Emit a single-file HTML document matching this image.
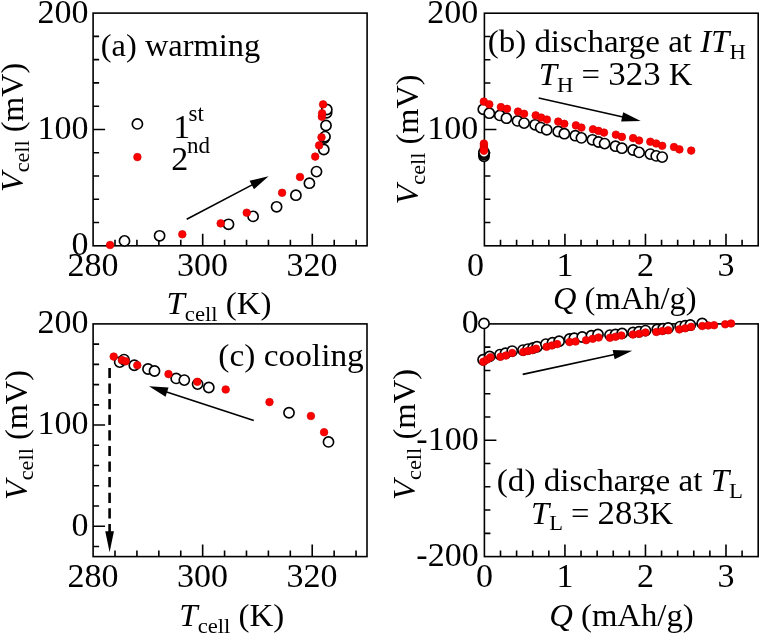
<!DOCTYPE html>
<html><head><meta charset="utf-8"><style>
html,body{margin:0;padding:0;background:#fff;}
svg{display:block;will-change:transform;}
text{font-family:"Liberation Serif", serif;fill:#000;}
</style></head><body>
<svg width="759" height="634" viewBox="0 0 759 634">
<rect width="759" height="634" fill="#fff"/>
<path d="M115.02 245.80V239.80 M136.94 245.80V239.80 M158.86 245.80V239.80 M180.78 245.80V239.80 M202.70 245.80V233.80 M224.62 245.80V239.80 M246.54 245.80V239.80 M268.46 245.80V239.80 M290.38 245.80V239.80 M312.30 245.80V233.80 M334.22 245.80V239.80 M356.14 245.80V239.80 M93.10 222.53H99.10 M93.10 199.26H99.10 M93.10 175.99H99.10 M93.10 152.72H99.10 M93.10 129.45H105.10 M93.10 106.18H99.10 M93.10 82.91H99.10 M93.10 59.64H99.10 M93.10 36.37H99.10" stroke="#000" stroke-width="1.6" fill="none"/>
<rect x="93.10" y="13.10" width="274.00" height="232.70" stroke="#000" stroke-width="1.6" fill="none"/>
<path d="M500.51 245.80V239.80 M516.61 245.80V239.80 M532.72 245.80V239.80 M548.82 245.80V239.80 M564.93 245.80V233.80 M581.04 245.80V239.80 M597.14 245.80V239.80 M613.25 245.80V239.80 M629.35 245.80V239.80 M645.46 245.80V233.80 M661.56 245.80V239.80 M677.67 245.80V239.80 M693.78 245.80V239.80 M709.88 245.80V239.80 M725.99 245.80V233.80 M742.09 245.80V239.80 M484.40 222.54H490.40 M484.40 199.28H490.40 M484.40 176.02H490.40 M484.40 152.76H490.40 M484.40 129.50H496.40 M484.40 106.24H490.40 M484.40 82.98H490.40 M484.40 59.72H490.40 M484.40 36.46H490.40" stroke="#000" stroke-width="1.6" fill="none"/>
<rect x="484.40" y="13.20" width="273.80" height="232.60" stroke="#000" stroke-width="1.6" fill="none"/>
<path d="M115.01 556.60V550.60 M136.92 556.60V550.60 M158.84 556.60V550.60 M180.75 556.60V550.60 M202.66 556.60V544.60 M224.57 556.60V550.60 M246.48 556.60V550.60 M268.40 556.60V550.60 M290.31 556.60V550.60 M312.22 556.60V544.60 M334.13 556.60V550.60 M356.04 556.60V550.60 M93.10 546.48H99.10 M93.10 526.25H105.10 M93.10 506.01H99.10 M93.10 485.78H99.10 M93.10 465.54H99.10 M93.10 445.31H99.10 M93.10 425.07H105.10 M93.10 404.84H99.10 M93.10 384.60H99.10 M93.10 364.37H99.10 M93.10 344.13H99.10" stroke="#000" stroke-width="1.6" fill="none"/>
<rect x="93.10" y="323.90" width="273.90" height="232.70" stroke="#000" stroke-width="1.6" fill="none"/>
<path d="M500.51 556.60V550.60 M516.61 556.60V550.60 M532.72 556.60V550.60 M548.82 556.60V550.60 M564.93 556.60V544.60 M581.04 556.60V550.60 M597.14 556.60V550.60 M613.25 556.60V550.60 M629.35 556.60V550.60 M645.46 556.60V544.60 M661.56 556.60V550.60 M677.67 556.60V550.60 M693.78 556.60V550.60 M709.88 556.60V550.60 M725.99 556.60V544.60 M742.09 556.60V550.60 M484.40 533.33H490.40 M484.40 510.06H490.40 M484.40 486.79H490.40 M484.40 463.52H490.40 M484.40 440.25H496.40 M484.40 416.98H490.40 M484.40 393.71H490.40 M484.40 370.44H490.40 M484.40 347.17H490.40" stroke="#000" stroke-width="1.6" fill="none"/>
<rect x="484.40" y="323.90" width="273.80" height="232.70" stroke="#000" stroke-width="1.6" fill="none"/>
<text transform="translate(88.60,22.50)" font-size="34" text-anchor="end" >200</text>
<text transform="translate(88.60,138.85)" font-size="34" text-anchor="end" >100</text>
<text transform="translate(88.60,255.20)" font-size="34" text-anchor="end" >0</text>
<text transform="translate(92.90,276.00)" font-size="34" text-anchor="middle" >280</text>
<text transform="translate(202.50,276.00)" font-size="34" text-anchor="middle" >300</text>
<text transform="translate(312.10,276.00)" font-size="34" text-anchor="middle" >320</text>
<text transform="translate(478.30,22.60)" font-size="34" text-anchor="end" >200</text>
<text transform="translate(478.30,138.90)" font-size="34" text-anchor="end" >100</text>
<text transform="translate(475.60,276.00)" font-size="34" text-anchor="middle" >0</text>
<text transform="translate(564.93,276.00)" font-size="34" text-anchor="middle" >1</text>
<text transform="translate(645.46,276.00)" font-size="34" text-anchor="middle" >2</text>
<text transform="translate(725.99,276.00)" font-size="34" text-anchor="middle" >3</text>
<text transform="translate(88.60,333.30)" font-size="34" text-anchor="end" >200</text>
<text transform="translate(88.60,434.47)" font-size="34" text-anchor="end" >100</text>
<text transform="translate(88.60,535.65)" font-size="34" text-anchor="end" >0</text>
<text transform="translate(92.90,586.80)" font-size="34" text-anchor="middle" >280</text>
<text transform="translate(202.46,586.80)" font-size="34" text-anchor="middle" >300</text>
<text transform="translate(312.02,586.80)" font-size="34" text-anchor="middle" >320</text>
<text transform="translate(478.70,333.30)" font-size="34" text-anchor="end" >0</text>
<text transform="translate(478.70,449.65)" font-size="34" text-anchor="end" >-100</text>
<text transform="translate(478.70,566.00)" font-size="34" text-anchor="end" >-200</text>
<text transform="translate(484.40,586.80)" font-size="34" text-anchor="middle" >0</text>
<text transform="translate(564.93,586.80)" font-size="34" text-anchor="middle" >1</text>
<text transform="translate(645.46,586.80)" font-size="34" text-anchor="middle" >2</text>
<text transform="translate(725.99,586.80)" font-size="34" text-anchor="middle" >3</text>
<text transform="translate(166.50,314.00) scale(1.0300,1)" font-size="32" text-anchor="start" ><tspan font-style="italic">T</tspan><tspan font-size="22" dy="6.5">cell</tspan><tspan dy="-6.5"> (K)</tspan></text>
<text transform="translate(179.30,626.00) scale(1.0300,1)" font-size="32" text-anchor="start" ><tspan font-style="italic">T</tspan><tspan font-size="22" dy="6.5">cell</tspan><tspan dy="-6.5"> (K)</tspan></text>
<text transform="translate(553.00,308.70) scale(1.0160,1)" font-size="32" text-anchor="start" ><tspan font-style="italic">Q</tspan> (mAh/g)</text>
<text transform="translate(549.20,626.30) scale(1.0230,1)" font-size="32" text-anchor="start" ><tspan font-style="italic">Q</tspan> (mAh/g)</text>
<text transform="translate(22.50,192.00) rotate(-90) scale(1.0060,1)" font-size="32" text-anchor="start" ><tspan font-style="italic">V</tspan><tspan font-size="22" dy="6.5">cell</tspan><tspan dy="-6.5"> (mV)</tspan></text>
<text transform="translate(418.20,204.40) rotate(-90) scale(1.0100,1)" font-size="32" text-anchor="start" ><tspan font-style="italic">V</tspan><tspan font-size="22" dy="6.5">cell</tspan><tspan dy="-6.5"> (mV)</tspan></text>
<text transform="translate(26.90,500.00) rotate(-90) scale(1.0100,1)" font-size="32" text-anchor="start" ><tspan font-style="italic">V</tspan><tspan font-size="22" dy="6.5">cell</tspan><tspan dy="-6.5"> (mV)</tspan></text>
<text transform="translate(414.50,500.00) rotate(-90) scale(1.0200,1)" font-size="32" text-anchor="start" ><tspan font-style="italic">V</tspan><tspan font-size="22" dy="6.5">cell</tspan><tspan dy="-6.5"> (mV)</tspan></text>
<text transform="translate(100.80,55.80) scale(1.0140,1)" font-size="32" text-anchor="start" >(a) warming</text>
<text transform="translate(218.30,366.40) scale(1.0430,1)" font-size="32" text-anchor="start" >(c) cooling</text>
<text transform="translate(487.80,52.30) scale(1.0290,1)" font-size="32" text-anchor="start" >(b) discharge at <tspan font-style="italic">IT</tspan><tspan font-size="22" dy="6.5">H</tspan></text>
<text transform="translate(538.80,85.00) scale(1.0260,1)" font-size="32" text-anchor="start" ><tspan font-style="italic">T</tspan><tspan font-size="22" dy="6.5">H</tspan><tspan dy="-6.5"> = <tspan font-size="34">323</tspan> K</tspan></text>
<text transform="translate(496.80,491.00) scale(1.0360,1)" font-size="32" text-anchor="start" >(d) discharge at <tspan font-style="italic">T</tspan><tspan font-size="22" dy="6.5">L</tspan></text>
<rect x="600" y="494.3" width="80" height="6" fill="#fff"/>
<text transform="translate(531.00,523.60) scale(1.0200,1)" font-size="32" text-anchor="start" ><tspan font-style="italic">T</tspan><tspan font-size="22" dy="6.5">L</tspan><tspan dy="-6.5"> = <tspan font-size="34">283</tspan>K</tspan></text>
<text transform="translate(173.30,137.60)" font-size="32" text-anchor="start" ><tspan font-size="34">1</tspan><tspan font-size="23" dx="-1.8" dy="-17">st</tspan></text>
<text transform="translate(171.30,169.90)" font-size="32" text-anchor="start" ><tspan font-size="34">2</tspan><tspan font-size="23" dx="-1.2" dy="-17">nd</tspan></text>
<circle cx="137.40" cy="123.90" r="5.1" fill="#fff" stroke="#000" stroke-width="1.65"/>
<circle cx="137.40" cy="157.10" r="3.80" fill="#f00" stroke="#d40000" stroke-width="0.7"/>
<circle cx="124.50" cy="240.90" r="5.1" fill="#fff" stroke="#000" stroke-width="1.65"/>
<circle cx="159.60" cy="235.80" r="5.1" fill="#fff" stroke="#000" stroke-width="1.65"/>
<circle cx="228.50" cy="224.30" r="5.1" fill="#fff" stroke="#000" stroke-width="1.65"/>
<circle cx="253.10" cy="216.40" r="5.1" fill="#fff" stroke="#000" stroke-width="1.65"/>
<circle cx="276.60" cy="206.80" r="5.1" fill="#fff" stroke="#000" stroke-width="1.65"/>
<circle cx="295.90" cy="195.20" r="5.1" fill="#fff" stroke="#000" stroke-width="1.65"/>
<circle cx="309.40" cy="183.20" r="5.1" fill="#fff" stroke="#000" stroke-width="1.65"/>
<circle cx="316.50" cy="171.60" r="5.1" fill="#fff" stroke="#000" stroke-width="1.65"/>
<circle cx="323.80" cy="149.50" r="5.1" fill="#fff" stroke="#000" stroke-width="1.65"/>
<circle cx="324.30" cy="138.00" r="5.1" fill="#fff" stroke="#000" stroke-width="1.65"/>
<circle cx="325.00" cy="136.60" r="5.1" fill="#fff" stroke="#000" stroke-width="1.65"/>
<circle cx="326.00" cy="125.50" r="5.1" fill="#fff" stroke="#000" stroke-width="1.65"/>
<circle cx="326.60" cy="112.80" r="5.1" fill="#fff" stroke="#000" stroke-width="1.65"/>
<circle cx="326.80" cy="109.50" r="5.1" fill="#fff" stroke="#000" stroke-width="1.65"/>
<circle cx="110.10" cy="245.00" r="3.80" fill="#f00" stroke="#d40000" stroke-width="0.7"/>
<circle cx="182.30" cy="234.30" r="3.80" fill="#f00" stroke="#d40000" stroke-width="0.7"/>
<circle cx="220.70" cy="223.40" r="3.80" fill="#f00" stroke="#d40000" stroke-width="0.7"/>
<circle cx="246.70" cy="212.70" r="3.80" fill="#f00" stroke="#d40000" stroke-width="0.7"/>
<circle cx="282.10" cy="192.80" r="3.80" fill="#f00" stroke="#d40000" stroke-width="0.7"/>
<circle cx="300.00" cy="177.00" r="3.80" fill="#f00" stroke="#d40000" stroke-width="0.7"/>
<circle cx="315.20" cy="156.60" r="3.80" fill="#f00" stroke="#d40000" stroke-width="0.7"/>
<circle cx="319.10" cy="145.40" r="3.80" fill="#f00" stroke="#d40000" stroke-width="0.7"/>
<circle cx="321.50" cy="137.30" r="3.80" fill="#f00" stroke="#d40000" stroke-width="0.7"/>
<circle cx="321.90" cy="116.80" r="3.80" fill="#f00" stroke="#d40000" stroke-width="0.7"/>
<circle cx="322.10" cy="113.30" r="3.80" fill="#f00" stroke="#d40000" stroke-width="0.7"/>
<circle cx="323.10" cy="104.40" r="3.80" fill="#f00" stroke="#d40000" stroke-width="0.7"/>
<circle cx="484.00" cy="156.30" r="5.1" fill="#fff" stroke="#000" stroke-width="1.65"/>
<circle cx="484.00" cy="154.60" r="5.1" fill="#fff" stroke="#000" stroke-width="1.65"/>
<circle cx="484.00" cy="153.20" r="5.1" fill="#fff" stroke="#000" stroke-width="1.65"/>
<circle cx="484.00" cy="152.20" r="5.1" fill="#fff" stroke="#000" stroke-width="1.65"/>
<circle cx="483.30" cy="109.30" r="5.1" fill="#fff" stroke="#000" stroke-width="1.65"/>
<circle cx="489.30" cy="113.20" r="5.1" fill="#fff" stroke="#000" stroke-width="1.65"/>
<circle cx="499.80" cy="115.40" r="5.1" fill="#fff" stroke="#000" stroke-width="1.65"/>
<circle cx="506.40" cy="118.20" r="5.1" fill="#fff" stroke="#000" stroke-width="1.65"/>
<circle cx="517.50" cy="120.90" r="5.1" fill="#fff" stroke="#000" stroke-width="1.65"/>
<circle cx="524.10" cy="123.10" r="5.1" fill="#fff" stroke="#000" stroke-width="1.65"/>
<circle cx="535.10" cy="124.80" r="5.1" fill="#fff" stroke="#000" stroke-width="1.65"/>
<circle cx="540.70" cy="127.60" r="5.1" fill="#fff" stroke="#000" stroke-width="1.65"/>
<circle cx="546.70" cy="129.80" r="5.1" fill="#fff" stroke="#000" stroke-width="1.65"/>
<circle cx="558.20" cy="131.50" r="5.1" fill="#fff" stroke="#000" stroke-width="1.65"/>
<circle cx="564.30" cy="133.70" r="5.1" fill="#fff" stroke="#000" stroke-width="1.65"/>
<circle cx="575.30" cy="135.70" r="5.1" fill="#fff" stroke="#000" stroke-width="1.65"/>
<circle cx="581.40" cy="137.90" r="5.1" fill="#fff" stroke="#000" stroke-width="1.65"/>
<circle cx="592.40" cy="139.80" r="5.1" fill="#fff" stroke="#000" stroke-width="1.65"/>
<circle cx="598.50" cy="142.00" r="5.1" fill="#fff" stroke="#000" stroke-width="1.65"/>
<circle cx="604.60" cy="143.60" r="5.1" fill="#fff" stroke="#000" stroke-width="1.65"/>
<circle cx="615.50" cy="146.20" r="5.1" fill="#fff" stroke="#000" stroke-width="1.65"/>
<circle cx="621.90" cy="148.20" r="5.1" fill="#fff" stroke="#000" stroke-width="1.65"/>
<circle cx="633.10" cy="150.00" r="5.1" fill="#fff" stroke="#000" stroke-width="1.65"/>
<circle cx="639.10" cy="152.40" r="5.1" fill="#fff" stroke="#000" stroke-width="1.65"/>
<circle cx="650.30" cy="154.10" r="5.1" fill="#fff" stroke="#000" stroke-width="1.65"/>
<circle cx="656.20" cy="155.90" r="5.1" fill="#fff" stroke="#000" stroke-width="1.65"/>
<circle cx="662.20" cy="157.10" r="5.1" fill="#fff" stroke="#000" stroke-width="1.65"/>
<circle cx="483.90" cy="143.60" r="3.80" fill="#f00" stroke="#d40000" stroke-width="0.7"/>
<circle cx="483.90" cy="145.50" r="3.80" fill="#f00" stroke="#d40000" stroke-width="0.7"/>
<circle cx="483.90" cy="147.50" r="3.80" fill="#f00" stroke="#d40000" stroke-width="0.7"/>
<circle cx="483.90" cy="149.50" r="3.80" fill="#f00" stroke="#d40000" stroke-width="0.7"/>
<circle cx="483.90" cy="150.80" r="3.80" fill="#f00" stroke="#d40000" stroke-width="0.7"/>
<circle cx="483.80" cy="101.60" r="3.80" fill="#f00" stroke="#d40000" stroke-width="0.7"/>
<circle cx="489.30" cy="104.40" r="3.80" fill="#f00" stroke="#d40000" stroke-width="0.7"/>
<circle cx="500.90" cy="107.10" r="3.80" fill="#f00" stroke="#d40000" stroke-width="0.7"/>
<circle cx="507.00" cy="108.80" r="3.80" fill="#f00" stroke="#d40000" stroke-width="0.7"/>
<circle cx="518.00" cy="111.60" r="3.80" fill="#f00" stroke="#d40000" stroke-width="0.7"/>
<circle cx="524.10" cy="113.80" r="3.80" fill="#f00" stroke="#d40000" stroke-width="0.7"/>
<circle cx="535.70" cy="115.40" r="3.80" fill="#f00" stroke="#d40000" stroke-width="0.7"/>
<circle cx="541.20" cy="117.60" r="3.80" fill="#f00" stroke="#d40000" stroke-width="0.7"/>
<circle cx="546.90" cy="119.60" r="3.80" fill="#f00" stroke="#d40000" stroke-width="0.7"/>
<circle cx="558.20" cy="121.60" r="3.80" fill="#f00" stroke="#d40000" stroke-width="0.7"/>
<circle cx="564.30" cy="123.80" r="3.80" fill="#f00" stroke="#d40000" stroke-width="0.7"/>
<circle cx="575.90" cy="125.40" r="3.80" fill="#f00" stroke="#d40000" stroke-width="0.7"/>
<circle cx="581.40" cy="127.60" r="3.80" fill="#f00" stroke="#d40000" stroke-width="0.7"/>
<circle cx="593.00" cy="129.30" r="3.80" fill="#f00" stroke="#d40000" stroke-width="0.7"/>
<circle cx="598.50" cy="130.90" r="3.80" fill="#f00" stroke="#d40000" stroke-width="0.7"/>
<circle cx="604.00" cy="132.60" r="3.80" fill="#f00" stroke="#d40000" stroke-width="0.7"/>
<circle cx="615.90" cy="134.70" r="3.80" fill="#f00" stroke="#d40000" stroke-width="0.7"/>
<circle cx="621.90" cy="136.90" r="3.80" fill="#f00" stroke="#d40000" stroke-width="0.7"/>
<circle cx="633.10" cy="138.10" r="3.80" fill="#f00" stroke="#d40000" stroke-width="0.7"/>
<circle cx="639.10" cy="140.50" r="3.80" fill="#f00" stroke="#d40000" stroke-width="0.7"/>
<circle cx="650.30" cy="141.70" r="3.80" fill="#f00" stroke="#d40000" stroke-width="0.7"/>
<circle cx="656.20" cy="143.50" r="3.80" fill="#f00" stroke="#d40000" stroke-width="0.7"/>
<circle cx="662.20" cy="145.80" r="3.80" fill="#f00" stroke="#d40000" stroke-width="0.7"/>
<circle cx="674.00" cy="147.00" r="3.80" fill="#f00" stroke="#d40000" stroke-width="0.7"/>
<circle cx="679.40" cy="149.40" r="3.80" fill="#f00" stroke="#d40000" stroke-width="0.7"/>
<circle cx="691.20" cy="150.60" r="3.80" fill="#f00" stroke="#d40000" stroke-width="0.7"/>
<circle cx="119.70" cy="362.10" r="5.1" fill="#fff" stroke="#000" stroke-width="1.65"/>
<circle cx="124.00" cy="359.60" r="5.1" fill="#fff" stroke="#000" stroke-width="1.65"/>
<circle cx="134.30" cy="365.20" r="5.1" fill="#fff" stroke="#000" stroke-width="1.65"/>
<circle cx="148.00" cy="369.00" r="5.1" fill="#fff" stroke="#000" stroke-width="1.65"/>
<circle cx="154.50" cy="371.00" r="5.1" fill="#fff" stroke="#000" stroke-width="1.65"/>
<circle cx="176.20" cy="378.40" r="5.1" fill="#fff" stroke="#000" stroke-width="1.65"/>
<circle cx="184.30" cy="380.10" r="5.1" fill="#fff" stroke="#000" stroke-width="1.65"/>
<circle cx="197.60" cy="384.10" r="5.1" fill="#fff" stroke="#000" stroke-width="1.65"/>
<circle cx="208.80" cy="387.50" r="5.1" fill="#fff" stroke="#000" stroke-width="1.65"/>
<circle cx="289.00" cy="412.70" r="5.1" fill="#fff" stroke="#000" stroke-width="1.65"/>
<circle cx="328.50" cy="441.90" r="5.1" fill="#fff" stroke="#000" stroke-width="1.65"/>
<circle cx="113.70" cy="356.60" r="3.80" fill="#f00" stroke="#d40000" stroke-width="0.7"/>
<circle cx="121.90" cy="360.10" r="3.80" fill="#f00" stroke="#d40000" stroke-width="0.7"/>
<circle cx="125.70" cy="361.30" r="3.80" fill="#f00" stroke="#d40000" stroke-width="0.7"/>
<circle cx="137.30" cy="365.20" r="3.80" fill="#f00" stroke="#d40000" stroke-width="0.7"/>
<circle cx="168.50" cy="374.10" r="3.80" fill="#f00" stroke="#d40000" stroke-width="0.7"/>
<circle cx="197.30" cy="381.80" r="3.80" fill="#f00" stroke="#d40000" stroke-width="0.7"/>
<circle cx="225.70" cy="389.50" r="3.80" fill="#f00" stroke="#d40000" stroke-width="0.7"/>
<circle cx="269.50" cy="402.10" r="3.80" fill="#f00" stroke="#d40000" stroke-width="0.7"/>
<circle cx="310.90" cy="416.00" r="3.80" fill="#f00" stroke="#d40000" stroke-width="0.7"/>
<circle cx="324.10" cy="432.20" r="3.80" fill="#f00" stroke="#d40000" stroke-width="0.7"/>
<circle cx="484.00" cy="323.40" r="5.1" fill="#fff" stroke="#000" stroke-width="1.65"/>
<circle cx="483.10" cy="359.80" r="5.1" fill="#fff" stroke="#000" stroke-width="1.65"/>
<circle cx="489.60" cy="356.40" r="5.1" fill="#fff" stroke="#000" stroke-width="1.65"/>
<circle cx="500.00" cy="354.60" r="5.1" fill="#fff" stroke="#000" stroke-width="1.65"/>
<circle cx="505.50" cy="353.30" r="5.1" fill="#fff" stroke="#000" stroke-width="1.65"/>
<circle cx="512.20" cy="351.10" r="5.1" fill="#fff" stroke="#000" stroke-width="1.65"/>
<circle cx="523.00" cy="350.10" r="5.1" fill="#fff" stroke="#000" stroke-width="1.65"/>
<circle cx="528.00" cy="349.10" r="5.1" fill="#fff" stroke="#000" stroke-width="1.65"/>
<circle cx="533.00" cy="348.00" r="5.1" fill="#fff" stroke="#000" stroke-width="1.65"/>
<circle cx="537.00" cy="346.80" r="5.1" fill="#fff" stroke="#000" stroke-width="1.65"/>
<circle cx="545.90" cy="344.10" r="5.1" fill="#fff" stroke="#000" stroke-width="1.65"/>
<circle cx="552.50" cy="342.70" r="5.1" fill="#fff" stroke="#000" stroke-width="1.65"/>
<circle cx="559.10" cy="341.30" r="5.1" fill="#fff" stroke="#000" stroke-width="1.65"/>
<circle cx="569.60" cy="339.00" r="5.1" fill="#fff" stroke="#000" stroke-width="1.65"/>
<circle cx="574.30" cy="338.30" r="5.1" fill="#fff" stroke="#000" stroke-width="1.65"/>
<circle cx="582.20" cy="337.00" r="5.1" fill="#fff" stroke="#000" stroke-width="1.65"/>
<circle cx="591.40" cy="335.70" r="5.1" fill="#fff" stroke="#000" stroke-width="1.65"/>
<circle cx="598.00" cy="334.40" r="5.1" fill="#fff" stroke="#000" stroke-width="1.65"/>
<circle cx="610.00" cy="335.10" r="5.1" fill="#fff" stroke="#000" stroke-width="1.65"/>
<circle cx="615.50" cy="334.40" r="5.1" fill="#fff" stroke="#000" stroke-width="1.65"/>
<circle cx="622.10" cy="333.40" r="5.1" fill="#fff" stroke="#000" stroke-width="1.65"/>
<circle cx="633.00" cy="332.40" r="5.1" fill="#fff" stroke="#000" stroke-width="1.65"/>
<circle cx="639.00" cy="331.80" r="5.1" fill="#fff" stroke="#000" stroke-width="1.65"/>
<circle cx="645.50" cy="330.60" r="5.1" fill="#fff" stroke="#000" stroke-width="1.65"/>
<circle cx="657.20" cy="329.40" r="5.1" fill="#fff" stroke="#000" stroke-width="1.65"/>
<circle cx="663.10" cy="328.80" r="5.1" fill="#fff" stroke="#000" stroke-width="1.65"/>
<circle cx="668.20" cy="328.00" r="5.1" fill="#fff" stroke="#000" stroke-width="1.65"/>
<circle cx="680.10" cy="326.60" r="5.1" fill="#fff" stroke="#000" stroke-width="1.65"/>
<circle cx="685.20" cy="325.80" r="5.1" fill="#fff" stroke="#000" stroke-width="1.65"/>
<circle cx="690.30" cy="325.00" r="5.1" fill="#fff" stroke="#000" stroke-width="1.65"/>
<circle cx="702.20" cy="323.40" r="5.1" fill="#fff" stroke="#000" stroke-width="1.65"/>
<circle cx="483.30" cy="361.80" r="3.80" fill="#f00" stroke="#d40000" stroke-width="0.7"/>
<circle cx="487.00" cy="359.60" r="3.80" fill="#f00" stroke="#d40000" stroke-width="0.7"/>
<circle cx="490.50" cy="357.20" r="3.80" fill="#f00" stroke="#d40000" stroke-width="0.7"/>
<circle cx="500.50" cy="356.80" r="3.80" fill="#f00" stroke="#d40000" stroke-width="0.7"/>
<circle cx="506.00" cy="355.50" r="3.80" fill="#f00" stroke="#d40000" stroke-width="0.7"/>
<circle cx="512.20" cy="353.00" r="3.80" fill="#f00" stroke="#d40000" stroke-width="0.7"/>
<circle cx="523.20" cy="352.00" r="3.80" fill="#f00" stroke="#d40000" stroke-width="0.7"/>
<circle cx="527.80" cy="351.00" r="3.80" fill="#f00" stroke="#d40000" stroke-width="0.7"/>
<circle cx="532.40" cy="350.10" r="3.80" fill="#f00" stroke="#d40000" stroke-width="0.7"/>
<circle cx="536.10" cy="348.70" r="3.80" fill="#f00" stroke="#d40000" stroke-width="0.7"/>
<circle cx="546.60" cy="346.80" r="3.80" fill="#f00" stroke="#d40000" stroke-width="0.7"/>
<circle cx="551.90" cy="345.50" r="3.80" fill="#f00" stroke="#d40000" stroke-width="0.7"/>
<circle cx="557.10" cy="344.10" r="3.80" fill="#f00" stroke="#d40000" stroke-width="0.7"/>
<circle cx="569.60" cy="342.10" r="3.80" fill="#f00" stroke="#d40000" stroke-width="0.7"/>
<circle cx="575.60" cy="341.50" r="3.80" fill="#f00" stroke="#d40000" stroke-width="0.7"/>
<circle cx="586.10" cy="340.20" r="3.80" fill="#f00" stroke="#d40000" stroke-width="0.7"/>
<circle cx="592.70" cy="338.80" r="3.80" fill="#f00" stroke="#d40000" stroke-width="0.7"/>
<circle cx="598.60" cy="337.50" r="3.80" fill="#f00" stroke="#d40000" stroke-width="0.7"/>
<circle cx="609.90" cy="337.80" r="3.80" fill="#f00" stroke="#d40000" stroke-width="0.7"/>
<circle cx="615.50" cy="336.80" r="3.80" fill="#f00" stroke="#d40000" stroke-width="0.7"/>
<circle cx="621.40" cy="335.50" r="3.80" fill="#f00" stroke="#d40000" stroke-width="0.7"/>
<circle cx="632.90" cy="334.50" r="3.80" fill="#f00" stroke="#d40000" stroke-width="0.7"/>
<circle cx="639.20" cy="333.80" r="3.80" fill="#f00" stroke="#d40000" stroke-width="0.7"/>
<circle cx="645.50" cy="332.50" r="3.80" fill="#f00" stroke="#d40000" stroke-width="0.7"/>
<circle cx="656.30" cy="332.00" r="3.80" fill="#f00" stroke="#d40000" stroke-width="0.7"/>
<circle cx="662.30" cy="331.10" r="3.80" fill="#f00" stroke="#d40000" stroke-width="0.7"/>
<circle cx="668.20" cy="330.30" r="3.80" fill="#f00" stroke="#d40000" stroke-width="0.7"/>
<circle cx="679.30" cy="329.40" r="3.80" fill="#f00" stroke="#d40000" stroke-width="0.7"/>
<circle cx="685.20" cy="328.30" r="3.80" fill="#f00" stroke="#d40000" stroke-width="0.7"/>
<circle cx="691.20" cy="326.90" r="3.80" fill="#f00" stroke="#d40000" stroke-width="0.7"/>
<circle cx="702.20" cy="326.00" r="3.80" fill="#f00" stroke="#d40000" stroke-width="0.7"/>
<circle cx="708.20" cy="325.50" r="3.80" fill="#f00" stroke="#d40000" stroke-width="0.7"/>
<circle cx="714.10" cy="325.20" r="3.80" fill="#f00" stroke="#d40000" stroke-width="0.7"/>
<circle cx="725.20" cy="324.30" r="3.80" fill="#f00" stroke="#d40000" stroke-width="0.7"/>
<circle cx="731.10" cy="323.50" r="3.80" fill="#f00" stroke="#d40000" stroke-width="0.7"/>
<line x1="186.70" y1="219.20" x2="253.55" y2="184.10" stroke="#000" stroke-width="1.6"/>
<path d="M268.60 176.20L253.99 189.24L249.57 180.83Z" fill="#000"/>
<line x1="538.70" y1="98.00" x2="624.12" y2="117.26" stroke="#000" stroke-width="1.6"/>
<path d="M640.70 121.00L621.12 121.45L623.21 112.19Z" fill="#000"/>
<line x1="253.80" y1="420.60" x2="165.15" y2="391.50" stroke="#000" stroke-width="1.6"/>
<path d="M149.00 386.20L168.53 387.61L165.57 396.64Z" fill="#000"/>
<line x1="522.70" y1="374.40" x2="615.58" y2="354.30" stroke="#000" stroke-width="1.6"/>
<path d="M632.20 350.70L614.63 359.36L612.63 350.08Z" fill="#000"/>
<line x1="109.60" y1="367.90" x2="109.60" y2="533.30" stroke="#000" stroke-width="2.6" stroke-dasharray="10.2 5.4"/>
<path d="M109.60 552.30L105.25 531.30L113.95 531.30Z" fill="#000"/>
</svg>
</body></html>
